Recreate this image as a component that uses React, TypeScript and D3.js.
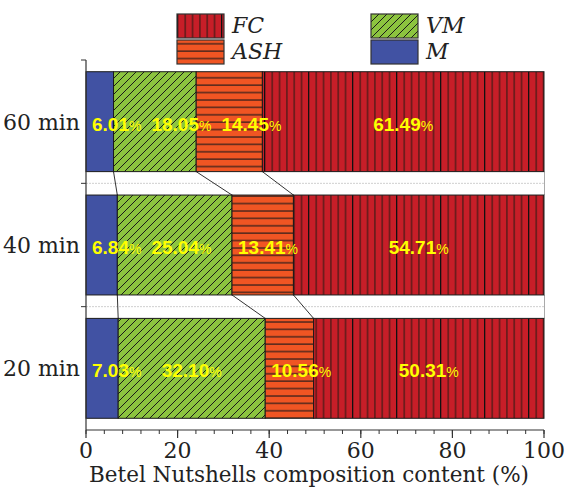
import React, { useEffect, useRef } from "react";
import * as d3 from "d3";

const categories = ["60 min", "40 min", "20 min"];
const components = ["M", "VM", "ASH", "FC"];
const mValues = [6.01, 6.84, 7.03];
const vmValues = [18.05, 25.04, 32.1];
const ashValues = [14.45, 13.41, 10.56];
const fcValues = [61.49, 54.71, 50.31];
const xTicks = [0, 20, 40, 60, 80, 100];
const legendOrder = ["FC", "ASH", "VM", "M"];

const colors: Record<string, string> = {
  M: "#4152a3",
  VM: "#8cc43f",
  ASH: "#f05523",
  FC: "#c71e28",
};

function App() {
  const svgRef = useRef<SVGSVGElement>(null);

  const w = 571;
  const h = 491;
  const margin = { top: 60, right: 27, bottom: 61, left: 86 };

  useEffect(() => {
    document.body.style.margin = "0";
    const svg = d3.select(svgRef.current);
    svg.selectAll("*").remove();

    const serif = "'DejaVu Serif', serif";
    const rows = categories.map((c, i) => ({
      cat: c,
      M: mValues[i],
      VM: vmValues[i],
      ASH: ashValues[i],
      FC: fcValues[i],
    }));

    const x = d3
      .scaleLinear()
      .domain([0, 100])
      .range([margin.left, w - margin.right]);
    const y = d3
      .scaleBand()
      .domain(categories)
      .range([margin.top, h - margin.bottom])
      .paddingInner(0.19)
      .paddingOuter(0.095);

    // patterns
    const defs = svg.append("defs");
    const vm = defs
      .append("pattern")
      .attr("id", "pVM")
      .attr("patternUnits", "userSpaceOnUse")
      .attr("width", 8)
      .attr("height", 8);
    vm.append("rect").attr("width", 8).attr("height", 8).attr("fill", colors.VM);
    vm.append("path")
      .attr("d", "M-2,2 L2,-2 M0,8 L8,0 M6,10 L10,6")
      .attr("stroke", "#1a1a1a")
      .attr("stroke-width", 1);

    const ash = defs
      .append("pattern")
      .attr("id", "pASH")
      .attr("patternUnits", "userSpaceOnUse")
      .attr("width", 10)
      .attr("height", 7.4);
    ash.append("rect").attr("width", 10).attr("height", 7.4).attr("fill", colors.ASH);
    ash.append("rect").attr("y", 3).attr("width", 10).attr("height", 1.6).attr("fill", "#5b2a1c");

    const fc = defs
      .append("pattern")
      .attr("id", "pFC")
      .attr("patternUnits", "userSpaceOnUse")
      .attr("width", 44)
      .attr("height", 10);
    fc.append("rect").attr("width", 44).attr("height", 10).attr("fill", colors.FC);
    d3.range(6).forEach((k) => {
      fc.append("rect")
        .attr("x", k * 7.33)
        .attr("width", k === 0 ? 1.3 : 1.8)
        .attr("height", 10)
        .attr("fill", k === 0 ? "#111" : "#6e1c1c");
    });

    const fills: Record<string, string> = {
      M: colors.M,
      VM: "url(#pVM)",
      ASH: "url(#pASH)",
      FC: "url(#pFC)",
    };

    // grid lines between bars
    const gaps = categories.slice(1).map((c) => y(c)! - (y.step() * y.paddingInner()) / 2);
    svg
      .selectAll(".grid")
      .data(gaps)
      .join("line")
      .attr("x1", x(0))
      .attr("x2", x(100))
      .attr("y1", (d) => d)
      .attr("y2", (d) => d)
      .attr("stroke", "#cfcfcf")
      .attr("stroke-dasharray", "2,1");

    // right border in gaps
    categories.slice(1).forEach((c, i) => {
      svg
        .append("line")
        .attr("x1", x(100) + 0.5)
        .attr("x2", x(100) + 0.5)
        .attr("y1", y(categories[i])! + y.bandwidth())
        .attr("y2", y(c)!)
        .attr("stroke", "#aaa");
    });

    const stack = d3.stack<any>().keys(components)(rows);

    // connectors between bars
    for (let i = 0; i < rows.length - 1; i++) {
      stack.slice(0, 3).forEach((s) => {
        svg
          .append("line")
          .attr("x1", x(s[i][1]))
          .attr("y1", y(rows[i].cat)! + y.bandwidth())
          .attr("x2", x(s[i + 1][1]))
          .attr("y2", y(rows[i + 1].cat)!)
          .attr("stroke", "#333")
          .attr("stroke-width", 1);
      });
    }

    // bars
    stack.forEach((s) => {
      svg
        .append("g")
        .selectAll("rect")
        .data(s)
        .join("rect")
        .attr("x", (d) => x(d[0]))
        .attr("y", (d) => y(d.data.cat)!)
        .attr("width", (d) => x(d[1]) - x(d[0]))
        .attr("height", y.bandwidth())
        .attr("fill", fills[s.key])
        .attr("stroke", "#1a1a1a")
        .attr("stroke-width", 1);
    });

    // value labels
    rows.forEach((r, i) => {
      let prevEnd = -Infinity;
      stack.forEach((s) => {
        const d = s[i];
        const t = svg
          .append("text")
          .attr("y", y(r.cat)! + y.bandwidth() / 2 + 9)
          .attr("fill", "#ffff00")
          .attr("font-family", "'Liberation Sans', Arial, sans-serif");
        t.append("tspan")
          .attr("font-weight", "bold")
          .attr("font-size", 19)
          .text((d[1] - d[0]).toFixed(2));
        t.append("tspan").attr("font-size", 14).text("%");
        const tw = (t.node() as SVGTextElement).getComputedTextLength();
        const c = (x(d[0]) + x(d[1])) / 2;
        const start = Math.max(c - tw / 2, prevEnd + 10, x(d[0]) + 6);
        t.attr("x", start);
        prevEnd = start + tw;
      });
    });

    // x axis
    const xAxis = svg.append("g").attr("transform", `translate(0, ${h - margin.bottom})`);
    xAxis
      .append("line")
      .attr("x1", x(0))
      .attr("x2", x(100))
      .attr("stroke", "#333")
      .attr("stroke-width", 1.2);
    xAxis
      .selectAll(".minor")
      .data(d3.range(0, 101, 4))
      .join("line")
      .attr("x1", (d) => x(d))
      .attr("x2", (d) => x(d))
      .attr("y2", 4)
      .attr("stroke", "#333");
    xAxis
      .selectAll(".major")
      .data(xTicks)
      .join("line")
      .attr("x1", (d) => x(d))
      .attr("x2", (d) => x(d))
      .attr("y2", 8)
      .attr("stroke", "#333")
      .attr("stroke-width", 1.2);
    xAxis
      .selectAll("text")
      .data(xTicks)
      .join("text")
      .attr("x", (d) => x(d))
      .attr("y", 28)
      .attr("text-anchor", "middle")
      .attr("font-family", serif)
      .attr("font-size", 22)
      .attr("fill", "#222")
      .text((d) => d);
    svg
      .append("text")
      .attr("x", (x(0) + x(100)) / 2 - 6)
      .attr("y", 482)
      .attr("text-anchor", "middle")
      .attr("font-family", serif)
      .attr("font-size", 21.5)
      .attr("fill", "#222")
      .text("Betel Nutshells composition content (%)");

    // y axis
    const yAxis = svg.append("g");
    yAxis
      .append("line")
      .attr("x1", x(0))
      .attr("x2", x(0))
      .attr("y1", margin.top)
      .attr("y2", h - margin.bottom)
      .attr("stroke", "#333")
      .attr("stroke-width", 1.2);
    yAxis
      .selectAll(".ytick")
      .data([margin.top, ...gaps])
      .join("line")
      .attr("x1", x(0) - 5)
      .attr("x2", x(0))
      .attr("y1", (d) => d)
      .attr("y2", (d) => d)
      .attr("stroke", "#333");
    yAxis
      .selectAll("text")
      .data(categories)
      .join("text")
      .attr("x", x(0) - 6)
      .attr("y", (d) => y(d)! + y.bandwidth() / 2 + 8)
      .attr("text-anchor", "end")
      .attr("font-family", serif)
      .attr("font-size", 22)
      .attr("fill", "#222")
      .text((d) => d);

    // legend
    const legend = svg
      .selectAll(".legend")
      .data(legendOrder)
      .join("g")
      .attr("transform", (d, i) => `translate(${i < 2 ? 177 : 371}, ${i % 2 === 0 ? 14 : 40})`);
    legend
      .append("rect")
      .attr("width", 47)
      .attr("height", 24)
      .attr("fill", (d) => fills[d])
      .attr("stroke", "#333")
      .attr("stroke-width", 1.2);
    legend
      .append("text")
      .attr("x", 55)
      .attr("y", 19)
      .attr("font-family", serif)
      .attr("font-style", "italic")
      .attr("font-size", 22)
      .attr("fill", "#222")
      .text((d) => d);
  }, []);

  return (
    <div>
      <svg ref={svgRef} width={w} height={h} style={{ display: "block" }}></svg>
    </div>
  );
}

export default App;
